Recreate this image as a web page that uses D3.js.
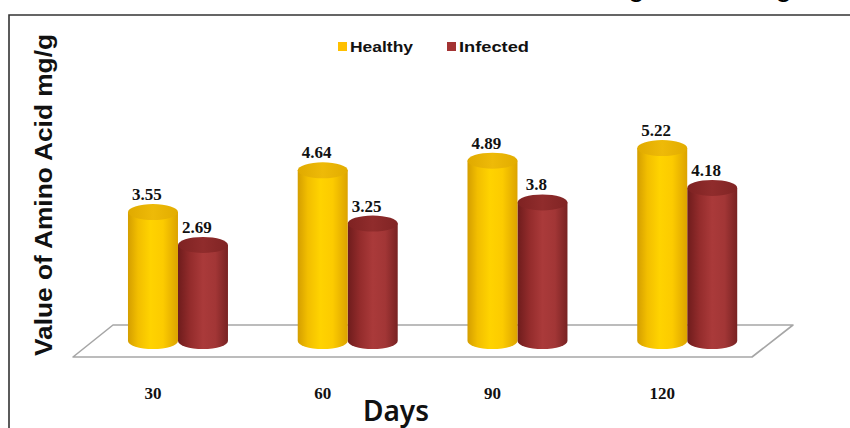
<!DOCTYPE html>
<html>
<head>
<meta charset="utf-8">
<script src="https://cdn.jsdelivr.net/npm/d3@7"></script>
<style>
  html, body { margin: 0; padding: 0; background: #fff; }
  svg { display: block; }
</style>
</head>
<body>
<svg id="chart" width="850" height="428"></svg>
<script>
// ---- data ----
const days = ["30", "60", "90", "120"];
const seriesNames = ["Healthy", "Infected"];
const healthy = [3.55, 4.64, 4.89, 5.22];
const infected = [2.69, 3.25, 3.8, 4.18];
const valueLabels = [["3.55", "4.64", "4.89", "5.22"], ["2.69", "3.25", "3.8", "4.18"]];
const titleText = "Amino Acid Content in Infected and Uninfected Leaves at Different Stages of Leaf Age";

const svg = d3.select("#chart");
const W = 850, H = 428;

// gradients
const defs = svg.append("defs");
function grad(id, stops) {
  const g = defs.append("linearGradient").attr("id", id).attr("x1", "0%").attr("x2", "100%").attr("y1", "0%").attr("y2", "0%");
  stops.forEach(s => g.append("stop").attr("offset", s[0]).attr("stop-color", s[1]));
}
grad("gy", [["0%", "#D49E00"], ["20%", "#F2BE00"], ["45%", "#FFD300"], ["70%", "#FCCB00"], ["100%", "#DCA300"]]);
grad("gyt", [["0%", "#E0AA00"], ["50%", "#EEBA08"], ["100%", "#E2AC00"]]);
grad("gr", [["0%", "#6E1C1C"], ["25%", "#942C2C"], ["50%", "#AA3A3A"], ["75%", "#A23636"], ["100%", "#782222"]]);
grad("grt", [["0%", "#7E2222"], ["50%", "#902C2C"], ["100%", "#802424"]]);

// cut-off title at the very top (only the lowest pixels show, as in the reference)
svg.append("text")
  .attr("x", -159).attr("y", -2)
  .attr("font-family", "Liberation Sans, Arial, sans-serif")
  .attr("font-weight", "bold").attr("font-size", 20)
  .attr("textLength", 963).attr("lengthAdjust", "spacingAndGlyphs")
  .text(titleText);

// frame
svg.append("path")
  .attr("d", `M9,${H} L9,15 L${W},15`)
  .attr("fill", "none").attr("stroke", "#333").attr("stroke-width", 1.6);

// scales
const x0 = d3.scaleBand().domain(days).range([93.1, 772.1]).paddingInner(0.411).paddingOuter(0.2055);
const x1 = d3.scaleBand().domain(seriesNames).range([0, x0.bandwidth()]).padding(0);
const y = d3.scaleLinear().domain([0, 6]).range([348, 348 - 6 * 38.3]);
const floorY = y(0) - 7;
const ry = 8;

// floor
svg.append("path")
  .attr("d", "M113,325 L793,325 L752,357 L73,357 Z")
  .attr("fill", "#fff").attr("stroke", "#a6a6a6").attr("stroke-width", 1.6).attr("stroke-linejoin", "round");

// bars
const colors = { Healthy: ["url(#gy)", "url(#gyt)"], Infected: ["url(#gr)", "url(#grt)"] };
const data = days.map((d, i) => ({ day: d, vals: [healthy[i], infected[i]], labels: [valueLabels[0][i], valueLabels[1][i]] }));

const groups = svg.selectAll("g.grp").data(data).enter().append("g").attr("class", "grp");
groups.each(function(d) {
  const g = d3.select(this);
  [1, 0].forEach(si => {
    const name = seriesNames[si];
    const left = x0(d.day) + x1(name);
    const w = x1.bandwidth();
    const rx = w / 2;
    const cx = left + rx;
    const top = y(d.vals[si]);
    g.append("path")
      .attr("d", `M${left},${top} L${left},${floorY} A${rx},${ry} 0 0 0 ${left + w},${floorY} L${left + w},${top} Z`)
      .attr("fill", colors[name][0]);
    g.append("ellipse")
      .attr("cx", cx).attr("cy", top).attr("rx", rx).attr("ry", ry)
      .attr("fill", colors[name][1]);
  });
  [0, 1].forEach(si => {
    const name = seriesNames[si];
    const cx = x0(d.day) + x1(name) + x1.bandwidth() / 2 - 6;
    g.append("text")
      .attr("x", cx).attr("y", y(d.vals[si]) - 12)
      .attr("text-anchor", "middle")
      .attr("font-family", "Liberation Serif, Times New Roman, serif")
      .attr("font-weight", "bold").attr("font-size", 17)
      .attr("fill", "#111")
      .text(d.labels[si]);
  });
});

// category labels
svg.selectAll("text.cat").data(days).enter().append("text")
  .attr("class", "cat")
  .attr("x", d => x0(d) + x1.bandwidth() / 2)
  .attr("y", 399)
  .attr("text-anchor", "middle")
  .attr("font-family", "Liberation Serif, Times New Roman, serif")
  .attr("font-weight", "bold").attr("font-size", 17)
  .attr("fill", "#111")
  .text(d => d);

// x-axis title
svg.append("text")
  .attr("x", 396).attr("y", 421)
  .attr("text-anchor", "middle")
  .attr("font-family", "Noto Sans, Liberation Sans, sans-serif")
  .attr("font-weight", 600)
  .attr("font-size", 28).attr("fill", "#111")
  .attr("textLength", 66).attr("lengthAdjust", "spacingAndGlyphs")
  .text("Days");

// y-axis title
svg.append("text")
  .attr("transform", "translate(52,195) rotate(-90)")
  .attr("text-anchor", "middle")
  .attr("font-family", "Liberation Sans, Arial, sans-serif")
  .attr("font-weight", "bold").attr("font-size", 24).attr("fill", "#111")
  .attr("textLength", 322).attr("lengthAdjust", "spacingAndGlyphs")
  .text("Value of Amino Acid mg/g");

// legend
const legend = svg.append("g");
const legX = [338, 447];
const legW = [75, 82];
seriesNames.forEach((n, i) => {
  legend.append("rect").attr("x", legX[i]).attr("y", 42).attr("width", 9).attr("height", 9)
    .attr("fill", i === 0 ? "#FFC000" : "#A33333");
  legend.append("text").attr("x", legX[i] + 12).attr("y", 52)
    .attr("font-family", "Liberation Sans, Arial, sans-serif")
    .attr("font-weight", "bold").attr("font-size", 15).attr("fill", "#111")
    .attr("textLength", legW[i] - 12).attr("lengthAdjust", "spacingAndGlyphs")
    .text(n);
});
</script>
</body>
</html>
